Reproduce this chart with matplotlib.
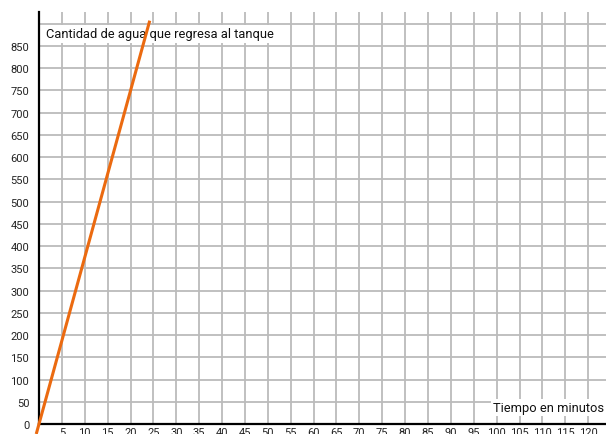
import matplotlib.pyplot as plt

# data
tiempo = [-0.6, 24.2]
agua = [-22.5, 907]
xticks = list(range(5, 125, 5))
yticks = list(range(0, 900, 50))
vgrid = list(range(5, 130, 5))
hgrid = list(range(50, 950, 50))

plt.rcParams['font.family'] = ['Roboto', 'DejaVu Sans']

fig = plt.figure(figsize=(6.06, 4.35), dpi=100)
ax = fig.add_axes([0, 0, 1, 1])
ax.set_xlim(-8.52, 123.9)
ax.set_ylim(-22.5, 955.7)

# grid
ax.vlines(vgrid, 0, 927, colors='#bbbbbb', linewidth=1.3, zorder=1)
ax.hlines(hgrid, 0, 126, colors='#bbbbbb', linewidth=1.3, zorder=1)

# spines
for s in ['top', 'right']:
    ax.spines[s].set_visible(False)
ax.spines['left'].set_position(('data', 0))
ax.spines['bottom'].set_position(('data', 0))
ax.spines['left'].set_bounds(0, 927)
ax.spines['bottom'].set_bounds(0, 126)
ax.spines['left'].set_linewidth(1.6)
ax.spines['bottom'].set_linewidth(1.6)

ax.set_xticks(xticks)
ax.set_yticks(yticks)
ax.tick_params(axis='both', length=0, labelsize=8, colors='#222222')
ax.tick_params(axis='y', pad=7)
ax.tick_params(axis='x', pad=2)

ax.plot(tiempo, agua, color='#eb6a10', linewidth=2.2, zorder=3, solid_capstyle='butt')

ax.text(1.5, 877, 'Cantidad de agua que regresa al tanque', fontsize=9.3, va='center', ha='left',
        color='#111111', zorder=2,
        bbox=dict(facecolor='white', edgecolor='none', pad=1.5))
ax.text(123.4, 38, 'Tiempo en minutos', fontsize=9.3, va='center', ha='right',
        color='#111111', zorder=2,
        bbox=dict(facecolor='white', edgecolor='none', pad=1.5))

fig.savefig('out.png', dpi=100)
